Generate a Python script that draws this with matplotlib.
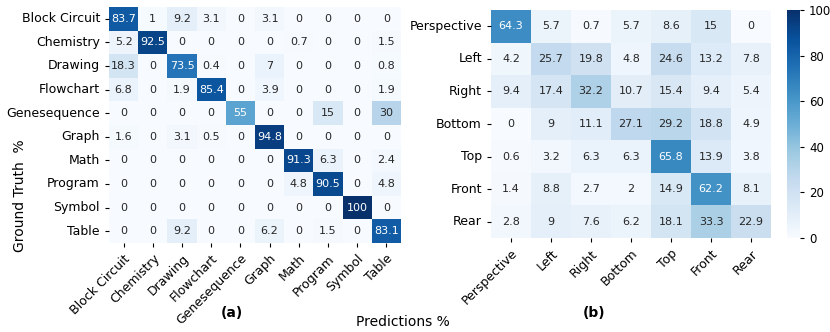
import numpy as np
import matplotlib
matplotlib.use("Agg")
import matplotlib.pyplot as plt
import seaborn as sns

cats_a = ["Block Circuit", "Chemistry", "Drawing", "Flowchart", "Genesequence",
          "Graph", "Math", "Program", "Symbol", "Table"]
vals_a = [
    [83.7, 1, 9.2, 3.1, 0, 3.1, 0, 0, 0, 0],
    [5.2, 92.5, 0, 0, 0, 0, 0.7, 0, 0, 1.5],
    [18.3, 0, 73.5, 0.4, 0, 7, 0, 0, 0, 0.8],
    [6.8, 0, 1.9, 85.4, 0, 3.9, 0, 0, 0, 1.9],
    [0, 0, 0, 0, 55, 0, 0, 15, 0, 30],
    [1.6, 0, 3.1, 0.5, 0, 94.8, 0, 0, 0, 0],
    [0, 0, 0, 0, 0, 0, 91.3, 6.3, 0, 2.4],
    [0, 0, 0, 0, 0, 0, 4.8, 90.5, 0, 4.8],
    [0, 0, 0, 0, 0, 0, 0, 0, 100, 0],
    [0, 0, 9.2, 0, 0, 6.2, 0, 1.5, 0, 83.1],
]

cats_b = ["Perspective", "Left", "Right", "Bottom", "Top", "Front", "Rear"]
vals_b = [
    [64.3, 5.7, 0.7, 5.7, 8.6, 15, 0],
    [4.2, 25.7, 19.8, 4.8, 24.6, 13.2, 7.8],
    [9.4, 17.4, 32.2, 10.7, 15.4, 9.4, 5.4],
    [0, 9, 11.1, 27.1, 29.2, 18.8, 4.9],
    [0.6, 3.2, 6.3, 6.3, 65.8, 13.9, 3.8],
    [1.4, 8.8, 2.7, 2, 14.9, 62.2, 8.1],
    [2.8, 9, 7.6, 6.2, 18.1, 33.3, 22.9],
]

W, H = 830, 332
fig = plt.figure(figsize=(W / 100, H / 100), dpi=100)

def ax_px(x0, y0, x1, y1):
    return fig.add_axes([x0 / W, 1 - y1 / H, (x1 - x0) / W, (y1 - y0) / H])

ax1 = ax_px(109, 7, 401, 243)
ax2 = ax_px(491, 10, 771, 238)
cax = ax_px(787, 10, 800, 238)

sns.heatmap(np.array(vals_a), ax=ax1, cmap="Blues", vmin=0, vmax=100, annot=True,
            fmt="g", cbar=False, xticklabels=cats_a, yticklabels=cats_a,
            annot_kws={"fontsize": 8})
sns.heatmap(np.array(vals_b), ax=ax2, cmap="Blues", vmin=0, vmax=100, annot=True,
            fmt="g", cbar=True, cbar_ax=cax, xticklabels=cats_b, yticklabels=cats_b,
            annot_kws={"fontsize": 8})

for ax in (ax1, ax2):
    ax.set_xticklabels(ax.get_xticklabels(), rotation=45, ha="right",
                       rotation_mode="anchor", fontsize=9)
    ax.set_yticklabels(ax.get_yticklabels(), rotation=0, fontsize=9)
    ax.tick_params(length=3, width=0.8)

cax.tick_params(labelsize=8.5, length=3)
cax.set_yticks([0, 20, 40, 60, 80, 100])
for s in cax.spines.values():
    s.set_visible(False)

fig.text(20 / W, 1 - 196 / H, "Ground Truth  %", rotation=90, ha="center",
         va="center", fontsize=10)
fig.text(403 / W, 1 - 322 / H, "Predictions %", ha="center", va="center", fontsize=10)
fig.text(232 / W, 1 - 313 / H, "(a)", ha="center", va="center", fontsize=10,
         fontweight="bold")
fig.text(594 / W, 1 - 313 / H, "(b)", ha="center", va="center", fontsize=10,
         fontweight="bold")

fig.savefig("out.png", dpi=100)
